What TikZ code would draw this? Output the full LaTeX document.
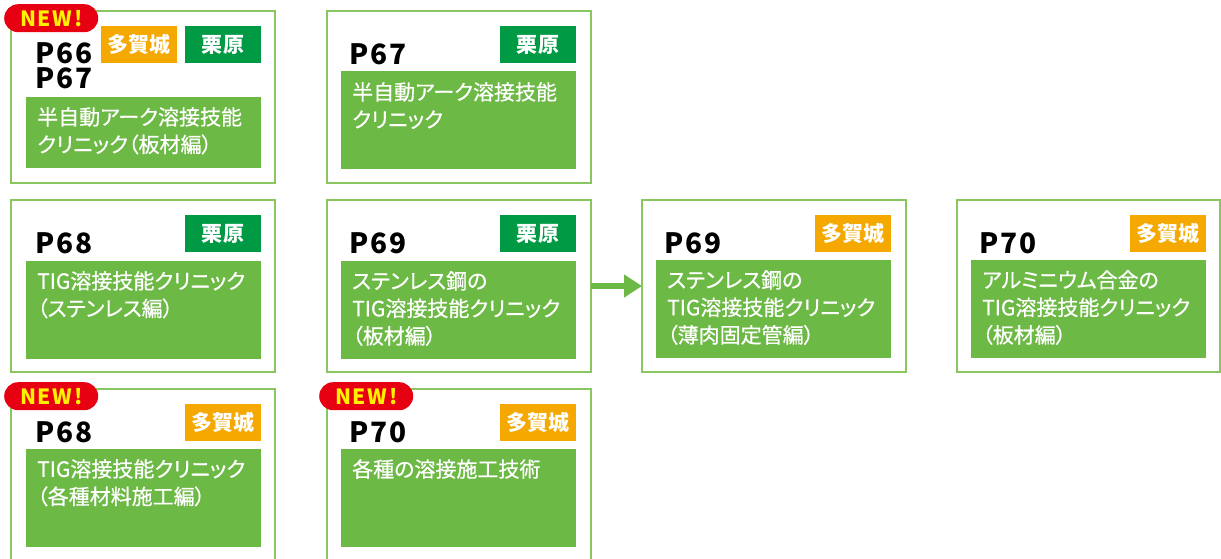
\documentclass[tikz,border=0pt]{standalone}
\usepackage{fontspec}
\usetikzlibrary{arrows.meta}
\newfontfamily\jp{Noto Sans CJK JP}[RawFeature=+palt,FakeBold=0.6]
\newfontfamily\jpb{Noto Sans CJK JP}[RawFeature=+palt,LetterSpace=2]
\newfontfamily\pnfont{Noto Sans CJK JP}[LetterSpace=8]
\definecolor{cardborder}{RGB}{137,198,96}
\definecolor{bodygreen}{RGB}{109,185,69}
\definecolor{taggreen}{RGB}{0,153,68}
\definecolor{tagorange}{RGB}{245,168,0}
\definecolor{newred}{RGB}{230,0,18}
\definecolor{newyellow}{RGB}{255,241,0}
\tikzset{
  card/.style={draw=cardborder, line width=2pt, minimum width=264pt, minimum height=172pt, anchor=north west, inner sep=0pt, outer sep=0pt},
  body/.style={fill=bodygreen, minimum width=235pt, minimum height=98pt, anchor=north west, inner sep=0pt, outer sep=0pt},
  btext/.style={anchor=north west, inner sep=0pt, text=white, align=left, font=\jp\fontsize{21}{27.5}\selectfont},
  tagbase/.style={minimum width=76pt, minimum height=37pt, anchor=north west, inner sep=0pt, outer sep=0pt, text=white, font=\jpb\bfseries\fontsize{21}{21}\selectfont},
  kurihara/.style={tagbase, fill=taggreen},
  tagajo/.style={tagbase, fill=tagorange},
  pnum/.style={anchor=base west, inner sep=0pt, text=black, align=left, font=\pnfont\bfseries\fontsize{28}{25}\selectfont},
  newbadge/.style={fill=newred, rounded corners=14pt, minimum width=94pt, minimum height=28pt, anchor=north west, inner sep=0pt, text=newyellow, font=\pnfont\bfseries\fontsize{21}{21}\selectfont},
  flowarrow/.style={draw=bodygreen, line width=6pt, -{Triangle[length=18pt,width=22pt]}}
}
\begin{document}
\begin{tikzpicture}[x=1pt,y=-1pt]
\useasboundingbox (0,0) rectangle (1221,558);
\clip (0,0) rectangle (1221,558);

% ---- card 1 ----
\node[card] (c1) at (11,11) {};
\node[body, minimum height=71pt] (c1b) at ([shift={(15,86)}]c1.north west) {};
\node[btext] (c1t) at ([shift={(11,10)}]c1b.north west) {半自動アーク溶接技能\\クリニック（板材編）};
\node[tagajo] (c1g) at ([shift={(90,15)}]c1.north west) {多賀城};
\node[kurihara] (c1k) at ([shift={(174,15)}]c1.north west) {栗原};
\node[pnum] (c1p) at ([shift={(24,77)}]c1.north west) {P66\\P67};
\node[newbadge] (n1) at (4,4) {NEW!};

% ---- card 2 ----
\node[card] (c2) at (327,11) {};
\node[body] (c2b) at ([shift={(14,60)}]c2.north west) {};
\node[btext] (c2t) at ([shift={(11,11)}]c2b.north west) {半自動アーク溶接技能\\クリニック};
\node[kurihara] (c2k) at ([shift={(173,15)}]c2.north west) {栗原};
\node[pnum] (c2p) at ([shift={(22,53)}]c2.north west) {P67};

% ---- card 3 ----
\node[card] (c3) at (11,200) {};
\node[body] (c3b) at ([shift={(15,61)}]c3.north west) {};
\node[btext] (c3t) at ([shift={(11,10)}]c3b.north west) {TIG溶接技能クリニック\\（ステンレス編）};
\node[kurihara] (c3k) at ([shift={(174,15)}]c3.north west) {栗原};
\node[pnum] (c3p) at ([shift={(24,53)}]c3.north west) {P68};

% ---- card 4 ----
\node[card] (c4) at (327,200) {};
\node[body] (c4b) at ([shift={(14,61)}]c4.north west) {};
\node[btext] (c4t) at ([shift={(11,10)}]c4b.north west) {ステンレス鋼の\\TIG溶接技能クリニック\\（板材編）};
\node[kurihara] (c4k) at ([shift={(173,15)}]c4.north west) {栗原};
\node[pnum] (c4p) at ([shift={(22,53)}]c4.north west) {P69};

% ---- card 5 ----
\node[card] (c5) at (642,200) {};
\node[body] (c5b) at ([shift={(14,60)}]c5.north west) {};
\node[btext] (c5t) at ([shift={(11,10)}]c5b.north west) {ステンレス鋼の\\TIG溶接技能クリニック\\（薄肉固定管編）};
\node[tagajo] (c5g) at ([shift={(173,15)}]c5.north west) {多賀城};
\node[pnum] (c5p) at ([shift={(22,53)}]c5.north west) {P69};

% ---- card 6 ----
\node[card, minimum width=263pt] (c6) at (957,200) {};
\node[body] (c6b) at ([shift={(14,60)}]c6.north west) {};
\node[btext] (c6t) at ([shift={(11,10)}]c6b.north west) {アルミニウム合金の\\TIG溶接技能クリニック\\（板材編）};
\node[tagajo] (c6g) at ([shift={(173,15)}]c6.north west) {多賀城};
\node[pnum] (c6p) at ([shift={(22,53)}]c6.north west) {P70};

% ---- card 7 ----
\node[card] (c7) at (11,389) {};
\node[body] (c7b) at ([shift={(15,60)}]c7.north west) {};
\node[btext] (c7t) at ([shift={(11,10)}]c7b.north west) {TIG溶接技能クリニック\\（各種材料施工編）};
\node[tagajo] (c7g) at ([shift={(174,15)}]c7.north west) {多賀城};
\node[pnum] (c7p) at ([shift={(24,53)}]c7.north west) {P68};
\node[newbadge] (n7) at (4,382) {NEW!};

% ---- card 8 ----
\node[card] (c8) at (327,389) {};
\node[body] (c8b) at ([shift={(14,60)}]c8.north west) {};
\node[btext] (c8t) at ([shift={(11,10)}]c8b.north west) {各種の溶接施工技術};
\node[tagajo] (c8g) at ([shift={(173,15)}]c8.north west) {多賀城};
\node[pnum] (c8p) at ([shift={(22,53)}]c8.north west) {P70};
\node[newbadge] (n8) at (319,382) {NEW!};

% ---- arrow ----
\draw[flowarrow] (c4.east) -- (c5.west);
\end{tikzpicture}
\end{document}
